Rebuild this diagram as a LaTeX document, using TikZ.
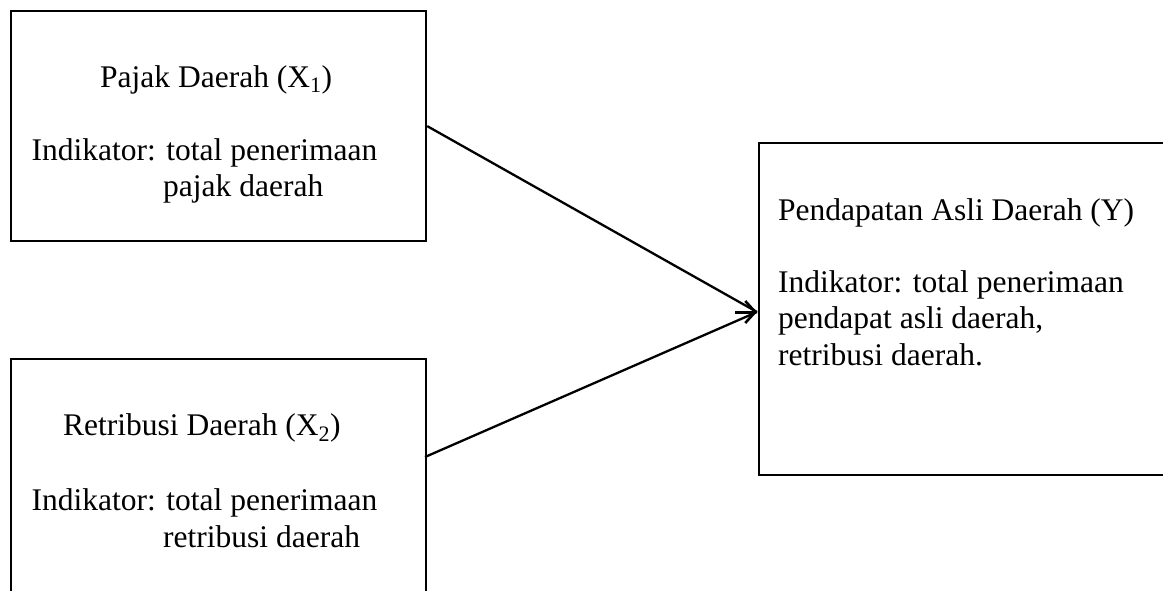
\documentclass[tikz,border=0pt]{standalone}
\usepackage{fontspec}
\setmainfont{Liberation Serif}
\usetikzlibrary{arrows.meta}
\begin{document}
\begin{tikzpicture}[x=1pt,y=-1pt,
  box/.style={draw,line width=2.2pt,rectangle,anchor=north west,inner sep=0pt},
  txt/.style={anchor=base west,inner sep=0pt,font=\fontsize{31.5}{36.5}\selectfont},
  conn/.style={line width=2.3pt},
  head/.style={line width=3pt,-{Straight Barb[length=10pt,width=22pt,line width=2.6pt]}}]
\useasboundingbox (0,0) rectangle (1163,590);
\clip (0,0) rectangle (1163,590);
% boxes
\node[box,minimum width=415pt,minimum height=230pt] (b1) at (10,10) {};
\node[box,minimum width=415pt,minimum height=300pt] (b2) at (10,358) {};
\node[box,minimum width=430pt,minimum height=332pt] (b3) at (758,142) {};
% texts box 1
\node[txt] (t11) at (100,87) {Pajak Daerah (X\textsubscript{1})};
\node[txt] (t12) at (31.5,160) {Indikator: total penerimaan};
\node[txt] (t13) at (163,196.5) {pajak daerah};
% texts box 2
\node[txt] (t21) at (63,435) {Retribusi Daerah (X\textsubscript{2})};
\node[txt] (t22) at (31.5,510) {Indikator: total penerimaan};
\node[txt] (t23) at (163,547) {retribusi daerah};
% texts box 3
\node[txt] (t31) at (778,220.5) {Pendapatan Asli Daerah (Y)};
\node[txt] (t32) at (778,292) {Indikator: total penerimaan};
\node[txt] (t33) at (778,328.5) {pendapat asli daerah,};
\node[txt] (t34) at (778,365) {retribusi daerah.};
% connectors
\coordinate (s1) at (b1.east);
\coordinate (s2) at (425,457);
\coordinate (tip) at (757,312);
\coordinate (stub) at (735,312);
\draw[conn] (s1) -- (tip);
\draw[conn] (s2) -- (tip);
\draw[head] (stub) -- (tip);
\end{tikzpicture}
\end{document}
